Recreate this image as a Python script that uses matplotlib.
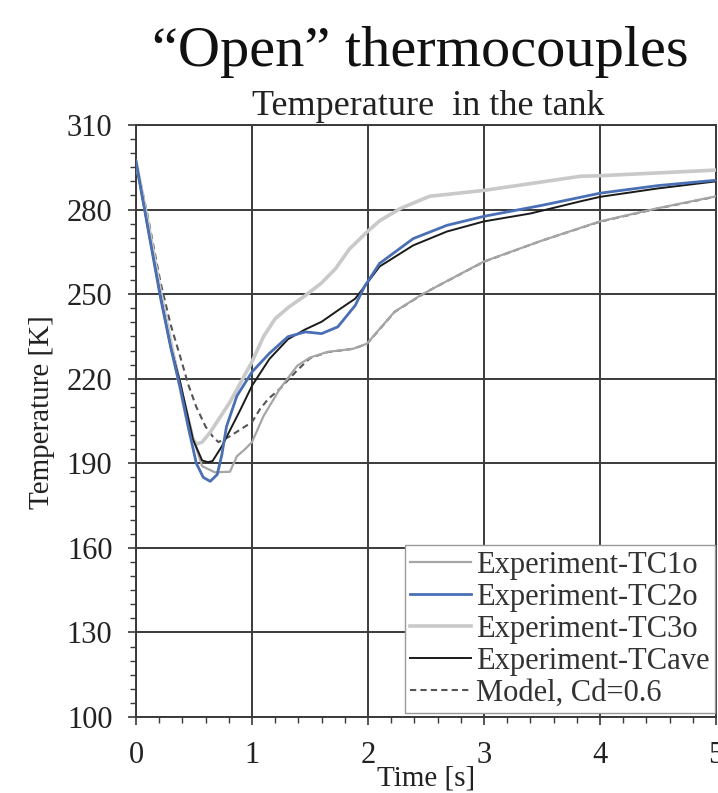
import matplotlib
matplotlib.use("Agg")
import matplotlib.pyplot as plt
from matplotlib.ticker import MultipleLocator, FixedLocator

plt.rcParams['font.family'] = ['Liberation Serif', 'DejaVu Serif']

# data: time [s] / temperature [K]
t_tc1 = [0, 0.1, 0.21, 0.3, 0.4, 0.5, 0.57, 0.68, 0.81, 0.87, 0.94, 1.0, 1.1, 1.24, 1.39,
         1.5, 1.65, 1.87, 1.99, 2.23, 2.45, 2.56, 3.0, 3.5, 4.0, 4.5, 5.0]
T_tc1 = [297, 276, 251, 233, 215, 198, 189, 186.8, 187, 192.5, 195, 197.5, 206.8, 216.4, 224.6,
         227.5, 229.5, 230.6, 232.4, 243.8, 249.5, 252, 261.6, 269, 275.8, 280.5, 284.7]

t_tc2 = [0, 0.1, 0.21, 0.3, 0.38, 0.45, 0.52, 0.58, 0.64, 0.7, 0.74, 0.78, 0.87, 1.0, 1.15,
         1.31, 1.46, 1.6, 1.74, 1.89, 1.97, 2.1, 2.39, 2.68, 3.0, 3.5, 4.0, 4.5, 5.0]
T_tc2 = [297, 274, 249, 231, 217, 203, 190, 185, 183.6, 186, 193, 203, 213.9, 222.4, 229,
         234.9, 236.6, 236, 238.4, 246, 252.7, 260.9, 269.7, 274.4, 277.6, 281.5, 285.8, 288.5, 290.4]

t_tc3 = [0, 0.1, 0.21, 0.3, 0.4, 0.47, 0.52, 0.57, 0.64, 0.81, 1.0, 1.1, 1.2, 1.32, 1.46,
         1.6, 1.72, 1.84, 1.99, 2.1, 2.28, 2.53, 3.0, 3.5, 3.83, 4.0, 4.5, 5.0]
T_tc3 = [297, 276, 251, 233, 213, 200, 196.8, 197.5, 201, 211.7, 226, 235, 241.3, 245.5, 249.5,
         254, 259, 266, 272, 276, 280.4, 284.7, 286.8, 289.8, 291.8, 292, 293, 294]

t_ave = [0, 0.1, 0.21, 0.3, 0.38, 0.49, 0.57, 0.62, 0.66, 0.74, 0.9, 1.0, 1.15, 1.31, 1.46,
         1.6, 1.75, 1.89, 1.97, 2.1, 2.39, 2.68, 3.0, 3.4, 3.83, 4.0, 4.5, 5.0]
T_ave = [297, 274, 249.5, 231, 218.9, 198.6, 191, 190.4, 190.8, 196, 209, 217.5, 227, 234, 237.5,
         240.2, 244.5, 248.4, 252.7, 259.8, 267.3, 272.2, 275.8, 278.6, 282.9, 284.5, 287.5, 290]

# model: visible down to ~1.4 s, then runs underneath TC1o
t_mod = [0, 0.1, 0.21, 0.3, 0.38, 0.45, 0.52, 0.6, 0.66, 0.71, 0.81, 0.9, 1.0, 1.07, 1.14,
         1.24, 1.39, 1.5, 1.65, 1.87, 1.99, 2.23, 2.45, 2.56, 3.0, 3.5, 4.0, 4.5, 5.0]
T_mod = [297, 278, 254.4, 239, 228, 218, 210, 203, 199.6, 197.5, 199.6, 202, 204.6, 209.3, 212.8,
         216.4, 223, 227.3, 229.4, 230.6, 232.3, 243.7, 249.4, 252, 261.5, 269, 275.7, 280.4, 284.6]

labels = ["Experiment-TC1o", "Experiment-TC2o", "Experiment-TC3o",
          "Experiment-TCave", "Model, Cd=0.6"]

fig = plt.figure(figsize=(7.18, 7.93), dpi=100)
ax = fig.add_axes([0.1894, 0.0958, 0.8078, 0.7466])

l_mod, = ax.plot(t_mod, T_mod, color="#555555", lw=1.5, ls=(0, (3, 2)), zorder=2)
l1, = ax.plot(t_tc1, T_tc1, color="#a6a6a6", lw=1.6, zorder=3)
l3, = ax.plot(t_tc3, T_tc3, color="#c9c9c9", lw=2.6, zorder=3)
l4, = ax.plot(t_ave, T_ave, color="#1a1a1a", lw=1.4, zorder=4)
l2, = ax.plot(t_tc2, T_tc2, color="#4a6fb5", lw=2.0, zorder=5)

ax.set_xlim(0, 5)
ax.set_ylim(100, 310)
ax.xaxis.set_major_locator(MultipleLocator(1))
ax.xaxis.set_minor_locator(MultipleLocator(0.2))
ax.yaxis.set_major_locator(FixedLocator(list(range(100, 311, 30))))
ax.yaxis.set_minor_locator(FixedLocator(list(range(100, 311, 5))))
ax.grid(True, which="major", color="#3a3a3a", lw=1.4)
ax.set_axisbelow(True)
for s in ax.spines.values():
    s.set_color("#3a3a3a")
    s.set_linewidth(1.4)
ax.tick_params(which="major", length=6, width=1.2, color="#3a3a3a",
               labelsize=22, labelcolor="#222222", pad=11)
ax.tick_params(which="minor", length=4.5, width=1.0, color="#3a3a3a")

ax.set_ylabel("Temperature [K]", fontsize=21, color="#222222")
ax.yaxis.set_label_coords(-0.14, 0.515)
ax.set_xlabel("Time [s]", fontsize=21, color="#222222", labelpad=-3)

ax.legend([l1, l2, l3, l4, l_mod], labels, loc="lower right",
          bbox_to_anchor=(0.998, 0.006), fontsize=22, frameon=True,
          fancybox=False, framealpha=1, edgecolor="#999999",
          handlelength=2.0, handletextpad=0.15, labelspacing=0.1,
          borderpad=0.18, borderaxespad=0, labelcolor="#333333")

fig.text(0.585, 0.917, "\u201cOpen\u201d thermocouples", fontsize=42,
         ha="center", va="baseline", color="#111111")
fig.text(0.596, 0.855, "Temperature  in the tank", fontsize=26,
         ha="center", va="baseline", color="#222222")

fig.savefig("out.png", dpi=100)
